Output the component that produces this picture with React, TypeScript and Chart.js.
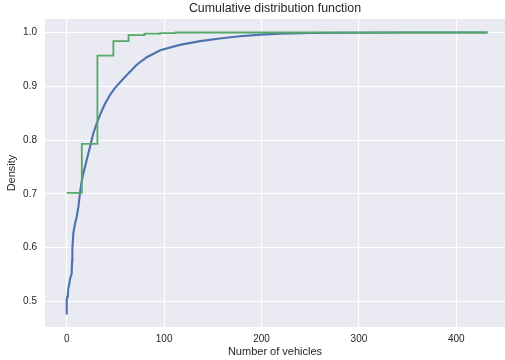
import React, { useEffect, useRef } from "react";
import { Chart, registerables } from "chart.js";
Chart.register(...registerables);

// Empirical CDF (blue)
const blueX = [0, 0, 0.6, 1.2, 1.7, 2.6, 3.4, 5.1, 5.5, 5.8, 6.8, 8.6, 10.3, 12, 13.7, 15.4, 17.1, 20.5, 24, 27.4, 30.8, 34.2, 39.4, 44.5, 49.6, 55, 61.7, 71.9, 82.2, 96, 116, 137, 157, 178, 199, 219, 250, 300, 350, 432];
const blueY = [0.476, 0.503, 0.509, 0.515, 0.525, 0.532, 0.542, 0.552, 0.575, 0.598, 0.627, 0.645, 0.658, 0.676, 0.703, 0.724, 0.738, 0.763, 0.788, 0.813, 0.831, 0.847, 0.868, 0.884, 0.897, 0.908, 0.921, 0.94, 0.954, 0.967, 0.977, 0.984, 0.989, 0.993, 0.996, 0.998, 0.999, 0.9995, 1.0, 1.0];

// Binned cumulative (green, step)
const greenX = [0, 15.5, 31.5, 47.9, 63.5, 79.8, 96, 112, 432];
const greenY = [0.702, 0.793, 0.957, 0.984, 0.995, 0.998, 0.999, 1.0, 1.0];

const xTicks = [0, 100, 200, 300, 400];
const yTicks = [0.5, 0.6, 0.7, 0.8, 0.9, 1.0];

const TITLE = "Cumulative distribution function";
const FONT = "'Liberation Sans', Arial, sans-serif";
const TEXT = "#262626";

const bgPlugin = {
  id: "bgPlot",
  beforeDraw(chart: any) {
    const { ctx, chartArea } = chart;
    if (!chartArea) return;
    ctx.save();
    ctx.fillStyle = "#EAEAF2";
    ctx.fillRect(chartArea.left, chartArea.top, chartArea.right - chartArea.left, chartArea.bottom - chartArea.top);
    ctx.restore();
  },
};

// Title centred over the plot area (as matplotlib does)
const titlePlugin = {
  id: "plotTitle",
  afterDraw(chart: any) {
    const { ctx, chartArea } = chart;
    if (!chartArea) return;
    ctx.save();
    ctx.fillStyle = TEXT;
    ctx.font = `12.4px ${FONT}`;
    ctx.textAlign = "center";
    ctx.textBaseline = "middle";
    ctx.fillText(TITLE, (chartArea.left + chartArea.right) / 2, 9);
    ctx.restore();
  },
};

export default function App() {
  const ref = useRef<HTMLCanvasElement | null>(null);
  useEffect(() => {
    if (!ref.current) return;
    const chart = new Chart(ref.current, {
      type: "line",
      data: {
        datasets: [
          {
            label: "binned",
            data: greenX.map((x, i) => ({ x, y: greenY[i] })),
            borderColor: "#55A868",
            borderWidth: 1.8,
            pointRadius: 0,
            stepped: "before",
            fill: false,
            order: 0,
          },
          {
            label: "ecdf",
            data: blueX.map((x, i) => ({ x, y: blueY[i] })),
            borderColor: "#4C72B0",
            borderWidth: 2.1,
            pointRadius: 0,
            tension: 0,
            fill: false,
            order: 1,
          },
        ],
      },
      options: {
        animation: false,
        responsive: false,
        devicePixelRatio: 1,
        layout: { padding: { top: 19, left: 0, right: 0, bottom: 0 } },
        plugins: {
          legend: { display: false },
          tooltip: { enabled: false },
          title: { display: false },
        },
        scales: {
          x: {
            type: "linear",
            min: -22.3,
            max: 450,
            grid: { color: "#ffffff", lineWidth: 1.1, drawTicks: false },
            border: { display: false },
            afterBuildTicks: (s: any) => {
              s.ticks = xTicks.map((v) => ({ value: v }));
            },
            afterFit: (s: any) => {
              s.height = 33;
            },
            ticks: {
              color: TEXT,
              padding: 6,
              font: { family: FONT, size: 10 },
              callback: (v: any) => String(v),
              maxRotation: 0,
            },
            title: {
              display: true,
              text: "Number of vehicles",
              color: TEXT,
              font: { family: FONT, size: 11 },
              padding: { top: 0, bottom: 1.4 },
            },
          },
          y: {
            type: "linear",
            min: 0.4526,
            max: 1.0251,
            grid: { color: "#ffffff", lineWidth: 1.1, drawTicks: false },
            border: { display: false },
            afterBuildTicks: (s: any) => {
              s.ticks = yTicks.map((v) => ({ value: v }));
            },
            afterFit: (s: any) => {
              s.width = 45;
            },
            ticks: {
              color: TEXT,
              padding: 8,
              font: { family: FONT, size: 10 },
              callback: (v: any) => Number(v).toFixed(1),
            },
            title: {
              display: true,
              text: "Density",
              color: TEXT,
              font: { family: FONT, size: 11 },
              padding: { top: 5.7, bottom: 0 },
            },
          },
        },
      },
      plugins: [bgPlugin, titlePlugin],
    });
    return () => chart.destroy();
  }, []);
  return (
    <div style={{ position: "fixed", left: 0, top: 0, width: 505, height: 360, background: "#fff" }}>
      <canvas ref={ref} width={505} height={360} style={{ width: 505, height: 360, display: "block" }} />
    </div>
  );
}
